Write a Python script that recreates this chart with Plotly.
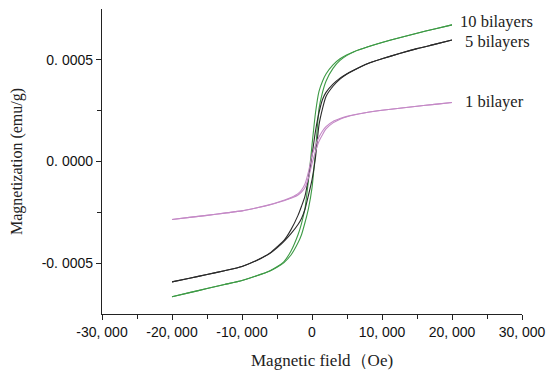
import plotly.graph_objects as go

# Field values (Oe): descending sweep and ascending sweep
H_down = [20000, 17500, 15000, 12500, 10000, 8000, 6000, 5000, 4000, 3000, 2000, 1500, 1000, 500, 0,
          -500, -1000, -1500, -2000, -3000, -4000, -5000, -6000, -8000, -10000, -12500, -15000, -17500, -20000]
H_up = [-20000, -17500, -15000, -12500, -10000, -8000, -6000, -5000, -4000, -3000, -2000, -1500, -1000, -500, 0,
        500, 1000, 1500, 2000, 3000, 4000, 5000, 6000, 8000, 10000, 12500, 15000, 17500, 20000]

# 10 bilayers (green), emu/g
m10_down = [0.000672, 0.000652, 0.000631, 0.000609, 0.000585, 0.000564, 0.000540, 0.000525, 0.000505, 0.000475,
            0.000430, 0.000395, 0.000345, 0.000240, 0.000080, -0.000090, -0.000230, -0.000305, -0.000360, -0.000440,
            -0.000492, -0.000518, -0.000537, -0.000563, -0.000585, -0.000605, -0.000625, -0.000645, -0.000665]
m10_up = [-0.000665, -0.000645, -0.000625, -0.000605, -0.000585, -0.000563, -0.000538, -0.000520, -0.000497, -0.000460,
          -0.000400, -0.000360, -0.000300, -0.000230, -0.000130, 0.000050, 0.000260, 0.000340, 0.000395, 0.000458,
          0.000497, 0.000522, 0.000540, 0.000564, 0.000585, 0.000609, 0.000631, 0.000652, 0.000672]

# 5 bilayers (black)
m5_down = [0.000598, 0.000576, 0.000555, 0.000531, 0.000505, 0.000482, 0.000450, 0.000432, 0.000410, 0.000380,
           0.000340, 0.000305, 0.000240, 0.000150, 0.000030, -0.000080, -0.000170, -0.000220, -0.000265, -0.000335,
           -0.000388, -0.000420, -0.000450, -0.000488, -0.000516, -0.000537, -0.000556, -0.000574, -0.000592]
m5_up = [-0.000592, -0.000574, -0.000556, -0.000537, -0.000516, -0.000488, -0.000452, -0.000425, -0.000393, -0.000355,
         -0.000310, -0.000280, -0.000235, -0.000165, -0.000090, 0.000020, 0.000180, 0.000260, 0.000320, 0.000370,
         0.000405, 0.000430, 0.000449, 0.000482, 0.000505, 0.000531, 0.000555, 0.000576, 0.000598]

# 1 bilayer (pink)
m1_down = [0.000290, 0.000281, 0.000272, 0.000262, 0.000252, 0.000242, 0.000230, 0.000222, 0.000211, 0.000197,
           0.000172, 0.000150, 0.000120, 0.000080, 0.000030, -0.000050, -0.000110, -0.000140, -0.000158, -0.000177,
           -0.000191, -0.000202, -0.000212, -0.000229, -0.000243, -0.000254, -0.000265, -0.000275, -0.000285]
m1_up = [-0.000285, -0.000275, -0.000265, -0.000254, -0.000243, -0.000229, -0.000213, -0.000203, -0.000193, -0.000181,
         -0.000165, -0.000150, -0.000128, -0.000080, -0.000010, 0.000050, 0.000100, 0.000132, 0.000160, 0.000190,
         0.000208, 0.000220, 0.000229, 0.000242, 0.000252, 0.000262, 0.000272, 0.000281, 0.000290]

series_names = ["10 bilayers", "5 bilayers", "1 bilayer"]
label_x = [26400, 26500, 26100]
label_y = [0.000690, 0.000591, 0.000296]

x_tickvals = [-30000, -20000, -10000, 0, 10000, 20000, 30000]
x_ticktext = ["-30, 000", "-20, 000", "-10, 000", "0", "10, 000", "20, 000", "30, 000"]
y_tickvals = [-0.0005, 0.0, 0.0005]
y_ticktext = ["-0. 0005", "0. 0000", "0. 0005"]

fig = go.Figure()
loops = [
    (m10_down, m10_up, "#3d9a45"),
    (m5_down, m5_up, "#2a2a2a"),
    (m1_down, m1_up, "#c489c6"),
]
for (down, up, col), name in zip(loops, series_names):
    for hx, my in ((H_down, down), (H_up, up)):
        fig.add_trace(go.Scatter(x=hx, y=my, mode="lines", name=name,
                                 line=dict(color=col, width=1.1, shape="spline", smoothing=0.6),
                                 showlegend=False, hoverinfo="skip"))

serif = "Liberation Serif, serif"
for name, lx, ly in zip(series_names, label_x, label_y):
    fig.add_annotation(x=lx, y=ly, text=name, showarrow=False,
                       font=dict(family=serif, size=16.5, color="#222"))

# x-axis title (placed as paper annotation to match the reference's offset)
fig.add_annotation(xref="paper", yref="paper", x=0.524, y=-0.151, text="Magnetic field\uff08Oe)",
                   showarrow=False, xanchor="center", yanchor="middle",
                   font=dict(family=serif, size=17, color="#222"))

tickfont = dict(family="Liberation Sans, Arial, sans-serif", size=14, color="#111")
fig.update_layout(
    width=550, height=374,
    margin=dict(l=102, r=28, t=9, b=60),
    plot_bgcolor="white", paper_bgcolor="white",
    xaxis=dict(range=[-30000, 30000], tickvals=x_tickvals, ticktext=x_ticktext,
               ticks="outside", ticklen=5, tickwidth=1.2, tickcolor="#222",
               showline=True, linecolor="#222", linewidth=1.3, showgrid=False, zeroline=False,
               tickfont=tickfont, automargin=False,
               minor=dict(tickvals=[-25000, -15000, -5000, 5000, 15000, 25000], ticks="outside",
                          ticklen=4, tickcolor="#222", showgrid=False)),
    yaxis=dict(range=[-0.00075, 0.00075], tickvals=y_tickvals, ticktext=y_ticktext,
               ticks="outside", ticklen=5, tickwidth=1.2, tickcolor="#222",
               showline=True, linecolor="#222", linewidth=1.3, showgrid=False, zeroline=False,
               tickfont=tickfont, automargin=False,
               minor=dict(tickvals=[-0.00025, 0.00025], ticks="outside",
                          ticklen=4, tickcolor="#222", showgrid=False),
               title=dict(text="Magnetization (emu/g)", standoff=15,
                          font=dict(family=serif, size=16, color="#222"))),
)

fig.write_html("out.html", config={"displayModeBar": False},
               post_script="document.body.style.margin='0px';document.body.style.overflow='hidden';")
